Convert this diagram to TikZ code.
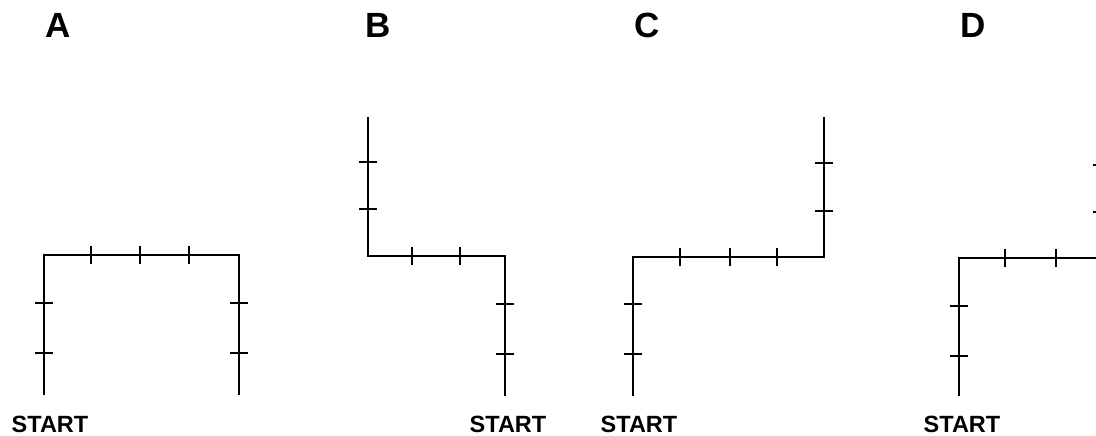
\documentclass[tikz,border=0pt]{standalone}
\usepackage{fontspec}
\setsansfont{Liberation Sans}
\begin{document}
\begin{tikzpicture}[x=1pt,y=-1pt,
  route/.style={line width=2.6pt,line join=miter},
  tick/.style={line width=2.6pt},
  letterlabel/.style={anchor=base,inner sep=0pt,font=\sffamily\bfseries\fontsize{35}{35}\selectfont},
  startlabel/.style={anchor=base,inner sep=0pt,font=\sffamily\bfseries\fontsize{23.5}{23.5}\selectfont},
  hmk/.pic={\draw[tick] (-9,0)--(9,0);},
  vmk/.pic={\draw[tick] (0,-9)--(0,9);}]
\useasboundingbox (0,0) rectangle (1096,436);
\clip (0,0) rectangle (1096,436);

% labels
\node[letterlabel] (lA) at (58,38) {A};
\node[letterlabel] (lB) at (378,38) {B};
\node[letterlabel] (lC) at (647,38) {C};
\node[letterlabel] (lD) at (973,38) {D};

\node[startlabel] (sA) at (50,432) {START};
\node[startlabel] (sB) at (508,432) {START};
\node[startlabel] (sC) at (639,432) {START};
\node[startlabel] (sD) at (962,432) {START};

% A
\draw[route] (44,395)--(44,255)--(239,255)--(239,395);
\foreach \y in {303,353} {\pic at (44,\y) {hmk}; \pic at (239,\y) {hmk};}
\foreach \x in {91,140,189} {\pic at (\x,255) {vmk};}

% B
\draw[route] (368,117)--(368,256)--(505,256)--(505,396);
\foreach \y in {162,209} {\pic at (368,\y) {hmk};}
\foreach \x in {412,460} {\pic at (\x,256) {vmk};}
\foreach \y in {304,354} {\pic at (505,\y) {hmk};}

% C
\draw[route] (633,396)--(633,257)--(824,257)--(824,117);
\foreach \y in {304,354} {\pic at (633,\y) {hmk};}
\foreach \x in {680,730,777} {\pic at (\x,257) {vmk};}
\foreach \y in {163,211} {\pic at (824,\y) {hmk};}

% D
\draw[route] (959,396)--(959,258)--(1102,258)--(1102,117);
\foreach \y in {306,356} {\pic at (959,\y) {hmk};}
\foreach \x in {1005,1056} {\pic at (\x,258) {vmk};}
\foreach \y in {165,212} {\pic at (1102,\y) {hmk};}
\end{tikzpicture}
\end{document}
